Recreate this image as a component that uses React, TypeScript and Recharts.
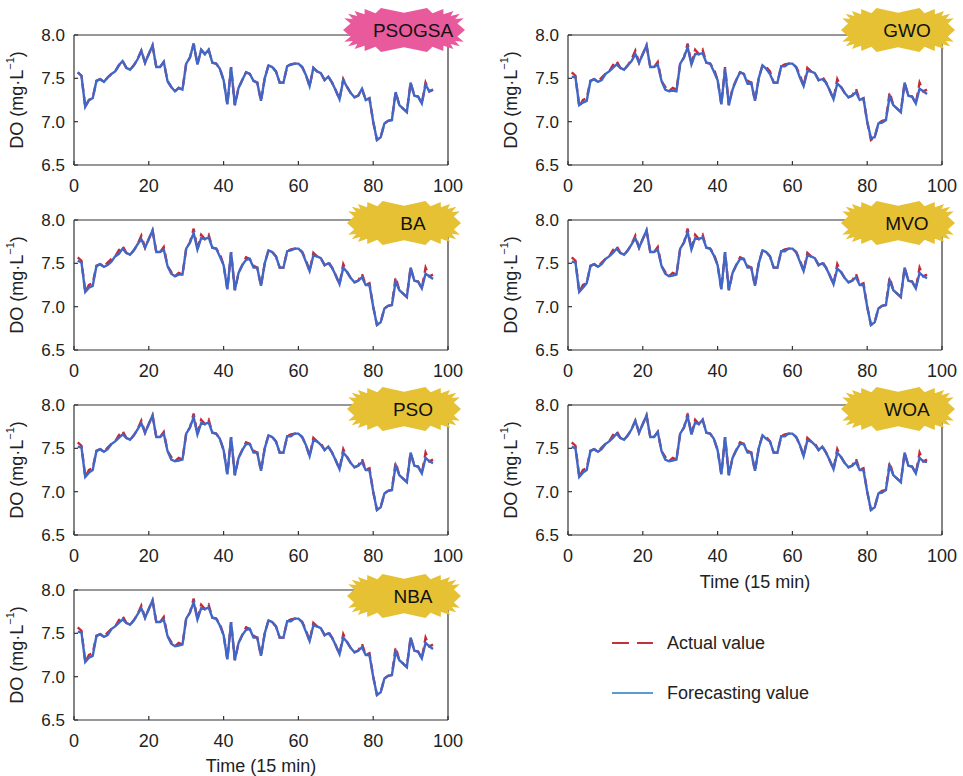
import React from 'react';
import { LineChart, Line, XAxis, YAxis } from 'recharts';

// 15-min steps over one day
const timeSteps = Array.from({ length: 96 }, (_, i) => i + 1);

const actualDO = [
  7.57, 7.53, 7.17, 7.25, 7.27, 7.47, 7.49, 7.46, 7.51, 7.55,
  7.58, 7.65, 7.70, 7.62, 7.60, 7.65, 7.72, 7.82, 7.68, 7.78,
  7.88, 7.63, 7.63, 7.69, 7.47, 7.40, 7.35, 7.39, 7.37, 7.67,
  7.74, 7.90, 7.66, 7.83, 7.78, 7.83, 7.68, 7.67, 7.61, 7.48,
  7.20, 7.63, 7.19, 7.39, 7.48, 7.57, 7.55, 7.47, 7.45, 7.24,
  7.50, 7.65, 7.63, 7.58, 7.45, 7.45, 7.64, 7.66, 7.67, 7.67,
  7.63, 7.54, 7.41, 7.62, 7.58, 7.56, 7.48, 7.52, 7.45, 7.36,
  7.26, 7.49, 7.40, 7.33, 7.28, 7.30, 7.38, 7.25, 7.27, 7.00,
  6.79, 6.82, 6.98, 7.01, 7.02, 7.34, 7.19, 7.15, 7.11, 7.45,
  7.30, 7.29, 7.21, 7.45, 7.35, 7.37,
];

// where the forecast sits below the measured line: [time step, gap]
const psogsaGaps: [number, number][] = [[72, 0.01], [94, 0.02]];
const gwoGaps: [number, number][] = [
  [1, 0.05], [2, 0.02], [3, -0.02], [4, 0.03], [5, 0.03], [9, 0.03], [12, 0.03], [13, 0.04],
  [17, 0.02], [18, 0.04], [24, 0.03], [26, 0.03], [28, 0.03], [29, 0.02], [32, 0.04],
  [34, 0.05], [36, 0.04], [39, 0.03], [42, 0.02], [44, 0.02], [48, 0.03], [53, 0.02],
  [54, 0.03], [58, 0.02], [62, 0.03], [64, 0.04], [68, 0.03], [72, 0.05], [77, 0.04],
  [81, -0.02], [84, 0.02], [86, 0.05], [94, 0.07], [96, 0.05],
];
const baGaps: [number, number][] = [
  [1, 0.04], [2, 0.02], [4, 0.03], [5, 0.03], [9, 0.03], [10, 0.03], [12, 0.04], [13, 0.03],
  [18, 0.04], [24, 0.03], [26, 0.02], [28, 0.02], [32, 0.05], [34, 0.04], [36, 0.03],
  [39, 0.03], [46, 0.03], [48, 0.02], [58, 0.01], [62, 0.02], [64, 0.03], [68, 0.02],
  [72, 0.04], [77, 0.04], [79, 0.02], [86, 0.05], [94, 0.07], [96, 0.05],
];
const mvoGaps: [number, number][] = [
  [1, 0.05], [2, 0.02], [4, 0.03], [9, 0.02], [12, 0.03], [13, 0.03], [18, 0.03],
  [24, 0.03], [26, 0.02], [28, 0.03], [32, 0.04], [34, 0.04], [36, 0.03], [39, 0.02],
  [46, 0.02], [48, 0.02], [58, 0.02], [62, 0.02], [64, 0.03], [68, 0.02], [72, 0.05],
  [77, 0.04], [79, 0.02], [86, 0.04], [94, 0.06], [96, 0.04],
];
const psoGaps: [number, number][] = [
  [1, 0.05], [2, 0.02], [4, 0.03], [5, 0.02], [9, 0.02], [12, 0.03], [13, 0.04],
  [18, 0.03], [24, 0.02], [26, 0.03], [28, 0.03], [32, 0.04], [34, 0.04], [36, 0.03],
  [46, 0.02], [48, 0.02], [58, 0.02], [64, 0.03], [66, 0.02], [72, 0.04], [77, 0.04],
  [79, 0.02], [86, 0.04], [94, 0.06], [96, 0.04],
];
const woaGaps: [number, number][] = [
  [1, 0.05], [2, 0.03], [4, 0.03], [5, 0.02], [9, 0.02], [12, 0.03], [13, 0.03],
  [26, 0.03], [28, 0.03], [32, 0.03], [34, 0.03], [46, 0.02], [48, 0.02], [53, 0.02],
  [58, 0.02], [64, 0.03], [66, 0.02], [72, 0.04], [77, 0.04], [79, 0.02], [84, 0.02],
  [86, 0.04], [94, 0.06], [96, 0.03],
];
const nbaGaps: [number, number][] = [
  [1, 0.05], [2, 0.02], [4, 0.03], [5, 0.03], [9, 0.03], [12, 0.03], [13, 0.04],
  [18, 0.03], [24, 0.03], [26, 0.02], [28, 0.03], [32, 0.04], [34, 0.04], [36, 0.03],
  [39, 0.02], [46, 0.03], [48, 0.02], [58, 0.02], [62, 0.02], [64, 0.03], [68, 0.02],
  [72, 0.04], [77, 0.04], [79, 0.02], [86, 0.05], [94, 0.06], [96, 0.05],
];

const modelNames = ['PSOGSA', 'GWO', 'BA', 'MVO', 'PSO', 'WOA', 'NBA'];
const modelGaps = [psogsaGaps, gwoGaps, baGaps, mvoGaps, psoGaps, woaGaps, nbaGaps];

const xTicks = [0, 20, 40, 60, 80, 100];
const yTicks = [6.5, 7.0, 7.5, 8.0];

const FONT = '"Liberation Sans", Arial, sans-serif';
const PLOT_W = 374;
const PLOT_H = 130;
const colX = [74, 568];
const rowY = [35, 220, 405, 590];
const badgeRowY = [30, 223, 409, 596];
const AXIS = '#333';
const TEXT = '#222';

function panelData(gaps: [number, number][]) {
  const gapAt = new Map(gaps);
  return timeSteps.map((t, i) => ({
    t,
    actual: actualDO[i],
    forecast: +(actualDO[i] - (gapAt.get(t) ?? 0)).toFixed(3),
  }));
}

function Panel({ gaps, x0, y0 }: { gaps: [number, number][]; x0: number; y0: number }) {
  const ML = 60;
  const MR = 30;
  const MT = 10;
  const MB = 40;
  const data = panelData(gaps);
  return (
    <div style={{ position: 'absolute', left: x0 - ML, top: y0 - MT }}>
      <LineChart
        width={PLOT_W + ML + MR}
        height={PLOT_H + MT + MB}
        data={data}
        margin={{ top: MT - 1, right: MR - 1, bottom: 0, left: 0 }}
      >
        <XAxis
          dataKey="t"
          type="number"
          domain={[0, 100]}
          ticks={xTicks}
          interval={0}
          height={MB}
          tickSize={-4}
          tickMargin={18}
          stroke={AXIS}
          strokeWidth={1.2}
          tick={{ fill: TEXT, fontSize: 18 }}
        />
        <XAxis
          xAxisId="top"
          orientation="top"
          dataKey="t"
          type="number"
          domain={[0, 100]}
          ticks={xTicks}
          interval={0}
          height={1}
          tickSize={-4}
          stroke={AXIS}
          strokeWidth={1.2}
          tick={false}
        />
        <YAxis
          type="number"
          domain={[6.5, 8]}
          ticks={yTicks}
          interval={0}
          width={ML}
          tickSize={-4}
          tickMargin={13}
          stroke={AXIS}
          strokeWidth={1.2}
          tick={{ fill: TEXT, fontSize: 17 }}
          tickFormatter={(v: number) => v.toFixed(1)}
        />
        <YAxis
          yAxisId="right"
          orientation="right"
          type="number"
          domain={[6.5, 8]}
          ticks={yTicks}
          interval={0}
          width={1}
          tickSize={-4}
          stroke={AXIS}
          strokeWidth={1.2}
          tick={false}
        />
        <Line
          type="linear"
          dataKey="actual"
          stroke="#C62A32"
          strokeWidth={2.4}
          strokeDasharray="8 5"
          dot={false}
          isAnimationActive={false}
        />
        <Line
          type="linear"
          dataKey="forecast"
          stroke="#4266C6"
          strokeWidth={2.4}
          dot={false}
          isAnimationActive={false}
        />
      </LineChart>
    </div>
  );
}

// spiky label shape used for the model names
function burstPoints(cx: number, cy: number, rx: number, ry: number) {
  const n = 44;
  const pts: string[] = [];
  for (let i = 0; i < n; i++) {
    const a = (i / n) * Math.PI * 2;
    const c = Math.cos(a);
    const s = Math.sin(a);
    const px = rx * Math.sign(c) * Math.pow(Math.abs(c), 0.5);
    const py = ry * Math.sign(s) * Math.pow(Math.abs(s), 0.5);
    const kx = i % 2 === 0 ? 1 : 0.88;
    const ky = i % 2 === 0 ? 1 : 0.78;
    pts.push(`${(cx + px * kx).toFixed(1)},${(cy + py * ky).toFixed(1)}`);
  }
  return pts.join(' ');
}

function Badge({ name, cx, cy }: { name: string; cx: number; cy: number }) {
  const wide = name.length > 4;
  const fill = name === 'PSOGSA' ? '#E85A9C' : '#E6C133';
  return (
    <g>
      <polygon points={burstPoints(cx, cy, wide ? 61 : 57, 22)} fill={fill} />
      <text x={cx + 9} y={cy} textAnchor="middle" dominantBaseline="central" fontSize={19} fill="#111">
        {name}
      </text>
    </g>
  );
}

export default function App() {
  return (
    <div
      style={{
        position: 'absolute',
        left: 0,
        top: 0,
        width: 963,
        height: 776,
        background: '#fff',
        fontFamily: FONT,
        overflow: 'hidden',
      }}
    >
      {modelNames.map((name, i) => (
        <Panel key={name} gaps={modelGaps[i]} x0={colX[i % 2]} y0={rowY[Math.floor(i / 2)]} />
      ))}
      <svg
        width={963}
        height={776}
        style={{ position: 'absolute', left: 0, top: 0, pointerEvents: 'none', fontFamily: FONT }}
      >
        {modelNames.map((name, i) => {
          const x0 = colX[i % 2];
          const y0 = rowY[Math.floor(i / 2)];
          return (
            <g key={name}>
              <text
                transform={`translate(${x0 - 57}, ${y0 + PLOT_H / 2}) rotate(-90)`}
                textAnchor="middle"
                dominantBaseline="central"
                fontSize={18}
                fill={TEXT}
              >
                DO (mg·L
                <tspan dy={-7} fontSize={11}>−1</tspan>
                <tspan dy={7}>)</tspan>
              </text>
              <Badge name={name} cx={x0 + PLOT_W - 44} cy={badgeRowY[Math.floor(i / 2)]} />
            </g>
          );
        })}
        <text x={colX[0] + PLOT_W / 2} y={766} textAnchor="middle" dominantBaseline="central" fontSize={18} fill={TEXT}>
          Time (15 min)
        </text>
        <text x={colX[1] + PLOT_W / 2} y={582} textAnchor="middle" dominantBaseline="central" fontSize={18} fill={TEXT}>
          Time (15 min)
        </text>
        <line x1={612} x2={653} y1={643} y2={643} stroke="#C0333A" strokeWidth={2} strokeDasharray="17 8" />
        <text x={667} y={643} dominantBaseline="central" fontSize={18} fill={TEXT}>
          Actual value
        </text>
        <line x1={612} x2={653} y1={693} y2={693} stroke="#5B9BD5" strokeWidth={2} />
        <text x={667} y={693} dominantBaseline="central" fontSize={18} fill={TEXT}>
          Forecasting value
        </text>
      </svg>
    </div>
  );
}
